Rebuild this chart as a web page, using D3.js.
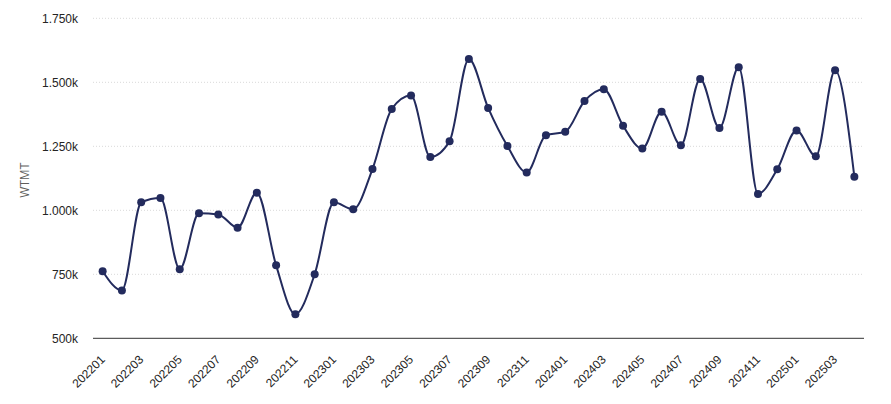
<!DOCTYPE html>
<html>
<head>
<meta charset="utf-8">
<script src="https://cdn.jsdelivr.net/npm/d3@7"></script>
<style>
  body { margin: 0; background: #fff; }
  svg { font-family: "Open Sans", sans-serif; }
</style>
</head>
<body>
<div id="chart"></div>
<script>
(function() {

var months = ["202201","202202","202203","202204","202205","202206","202207","202208","202209","202210","202211","202212",
              "202301","202302","202303","202304","202305","202306","202307","202308","202309","202310","202311","202312",
              "202401","202402","202403","202404","202405","202406","202407","202408","202409","202410","202411","202412",
              "202501","202502","202503","202504"];

// WTMT, in thousands
var wtmt = [762, 687, 1031, 1048, 770, 988, 984, 932, 1069, 785, 594, 750,
            1031, 1004, 1161, 1396, 1448, 1208, 1270, 1591, 1400, 1251, 1148, 1293,
            1307, 1427, 1473, 1330, 1241, 1385, 1254, 1513, 1321, 1559, 1064, 1160,
            1312, 1211, 1547, 1131];

var yTicks = [500, 750, 1000, 1250, 1500, 1750];

var width = 891, height = 404;

var svg = d3.select("#chart").append("svg")
    .attr("width", width)
    .attr("height", height);

var x = d3.scaleBand()
    .domain(months)
    .range([93, 864]);

var y = d3.scaleLinear()
    .domain([500, 1750])
    .range([338.3, 18.3]);

// 1.750k style: thousands separated with a dot
var fmt = function(v) {
  if (v < 1000) return v + "k";
  var s = String(v);
  return s.slice(0, s.length - 3) + "." + s.slice(s.length - 3) + "k";
};

// gridlines
svg.append("g")
  .selectAll("line")
  .data(yTicks.filter(function(d) { return d > 500; }))
  .join("line")
    .attr("x1", 93)
    .attr("x2", 864)
    .attr("y1", function(d) { return y(d); })
    .attr("y2", function(d) { return y(d); })
    .attr("stroke", "#d9d9d9")
    .attr("stroke-width", 1)
    .attr("stroke-dasharray", "1,2");

// y axis labels
var yAxis = svg.append("g")
    .attr("transform", "translate(93,0)")
    .call(d3.axisLeft(y).tickValues(yTicks).tickFormat(fmt).tickSize(0).tickPadding(15));
yAxis.select(".domain").remove();
yAxis.selectAll("text")
    .attr("fill", "#252423")
    .style("font-size", "12px");

// baseline
svg.append("line")
    .attr("x1", 93)
    .attr("x2", 864)
    .attr("y1", y(500))
    .attr("y2", y(500))
    .attr("stroke", "#333")
    .attr("stroke-width", 1);

// x axis labels
var xAxis = svg.append("g")
    .attr("transform", "translate(0," + y(500) + ")")
    .call(d3.axisBottom(x)
      .tickValues(months.filter(function(d, i) { return i % 2 === 0; }))
      .tickSize(0)
      .tickPadding(0));
xAxis.select(".domain").remove();
xAxis.selectAll("text")
    .attr("fill", "#252423")
    .style("font-size", "12px")
    .attr("text-anchor", "end")
    .attr("dy", "0.35em")
    .attr("transform", "translate(0,19) rotate(-45)");

// y axis title
svg.append("text")
    .attr("transform", "translate(29," + ((y(500) + y(1750)) / 2 + 2) + ") rotate(-90)")
    .attr("text-anchor", "middle")
    .attr("fill", "#605e5c")
    .style("font-size", "12px")
    .text("WTMT");

var line = d3.line()
    .x(function(d, i) { return x(months[i]) + x.bandwidth() / 2; })
    .y(function(d) { return y(d); })
    .curve(d3.curveMonotoneX);

svg.append("path")
    .datum(wtmt)
    .attr("fill", "none")
    .attr("stroke", "#232b5d")
    .attr("stroke-width", 2)
    .attr("stroke-linejoin", "round")
    .attr("d", line);

svg.append("g")
  .selectAll("circle")
  .data(wtmt)
  .join("circle")
    .attr("cx", function(d, i) { return x(months[i]) + x.bandwidth() / 2; })
    .attr("cy", function(d) { return y(d); })
    .attr("r", 4)
    .attr("fill", "#232b5d");

}());
</script>
</body>
</html>
